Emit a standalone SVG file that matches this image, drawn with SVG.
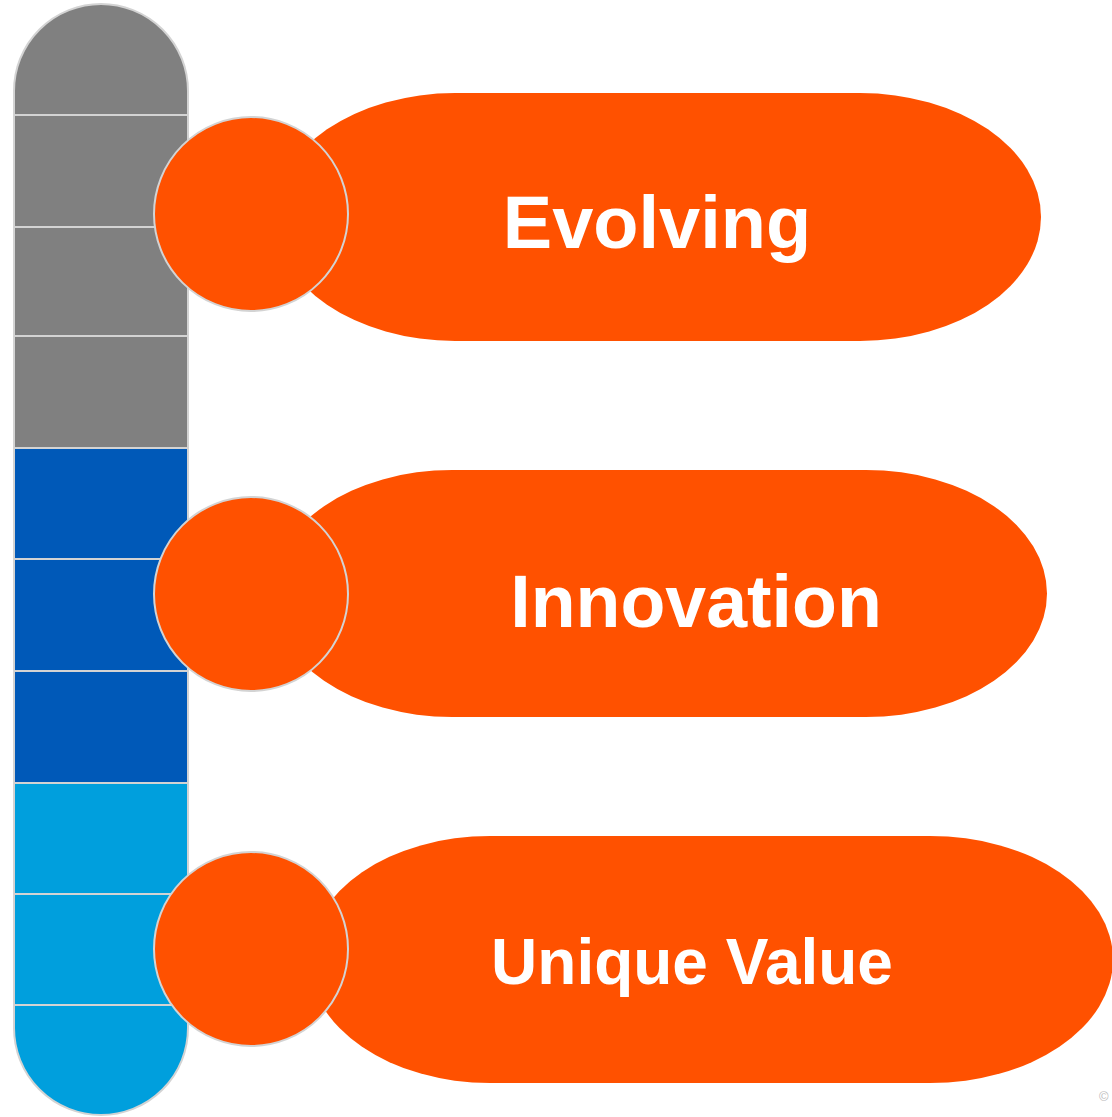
<svg xmlns="http://www.w3.org/2000/svg" width="1112" height="1117" viewBox="0 0 1112 1117">
<style>
.seg{stroke:#D3D3D3;stroke-width:2}
.g{fill:#808080}
.b{fill:#0059B8}
.lb{fill:#009FDD}
.pill{fill:#FF5100}
.dot{fill:#FF5100;stroke:#D3D3D3;stroke-width:2}
.lbl{fill:#FFFFFF;font-family:"Liberation Sans",Arial,sans-serif;font-weight:bold;text-anchor:middle}
</style>
<rect width="1112" height="1117" fill="#FFFFFF"/>
<g id="bar">
<path class="seg g" d="M14,115 L14,91 A87,87 0 0 1 188,91 L188,115 Z"/>
<rect class="seg g" x="14" y="115" width="174" height="112"/>
<rect class="seg g" x="14" y="227" width="174" height="109"/>
<rect class="seg g" x="14" y="336" width="174" height="112"/>
<rect class="seg b" x="14" y="448" width="174" height="111"/>
<rect class="seg b" x="14" y="559" width="174" height="112"/>
<rect class="seg b" x="14" y="671" width="174" height="112"/>
<rect class="seg lb" x="14" y="783" width="174" height="111"/>
<rect class="seg lb" x="14" y="894" width="174" height="111"/>
<path class="seg lb" d="M14,1005 L188,1005 L188,1028 A87,87 0 0 1 14,1028 Z"/>
</g>
<g id="node-evolving">
<path class="pill" d="M455,93 L860,93 A181,124 0 0 1 860,341 L455,341 A181,124 0 0 1 455,93 Z"/>
<circle class="dot" cx="251" cy="214" r="97"/>
<text class="lbl" x="657" y="248" font-size="74">Evolving</text>
</g>
<g id="node-innovation">
<path class="pill" d="M452,470 L866,470 A181,123.5 0 0 1 866,717 L452,717 A181,123.5 0 0 1 452,470 Z"/>
<circle class="dot" cx="251" cy="594" r="97"/>
<text class="lbl" x="696" y="627" font-size="73.5">Innovation</text>
</g>
<g id="node-unique-value">
<path class="pill" d="M490,836 L930,836 A183,123.5 0 0 1 930,1083 L490,1083 A181,123.5 0 0 1 490,836 Z"/>
<circle class="dot" cx="251" cy="949" r="97"/>
<text class="lbl" x="692" y="984" font-size="64">Unique Value</text>
</g>
<g id="connectors"></g>
<text x="1099" y="1101" font-family="'Liberation Sans',Arial,sans-serif" font-size="13" fill="#BBBBBB">©</text>
</svg>
